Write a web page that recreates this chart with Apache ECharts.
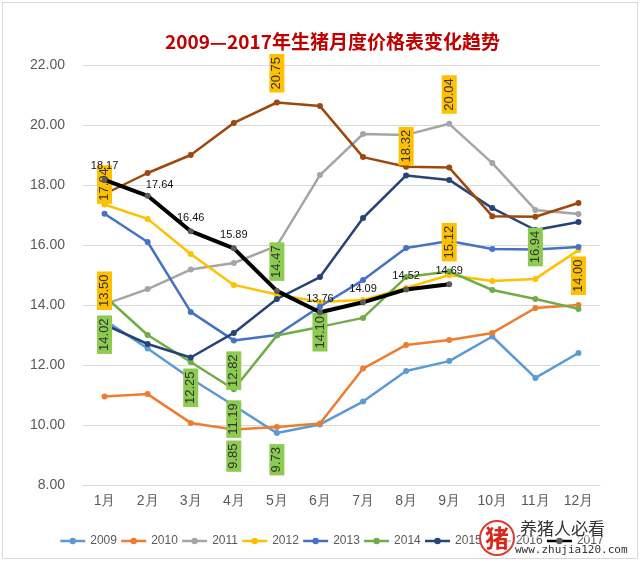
<!DOCTYPE html>
<html><head><meta charset="utf-8">
<script src="https://cdn.jsdelivr.net/npm/echarts@6/dist/echarts.min.js"></script>
<style>html,body{margin:0;padding:0;background:#fff}#c{width:640px;height:561px}</style>
</head><body><div id="c"></div>
<script>
const months = ['1月','2月','3月','4月','5月','6月','7月','8月','9月','10月','11月','12月'];
const years = ['2009','2010','2011','2012','2013','2014','2015','2016','2017'];
const yTicks = [8, 10, 12, 14, 16, 18, 20, 22];

const s2009 = [13.50, 12.55, 11.55, 10.65, 9.73, 10.02, 10.78, 11.80, 12.13, 12.95, 11.57, 12.40];
const s2010 = [10.95, 11.03, 10.07, 9.85, 9.93, 10.05, 11.88, 12.67, 12.83, 13.07, 13.90, 14.00];
const s2011 = [14.02, 14.53, 15.18, 15.40, 15.97, 18.33, 19.70, 19.67, 20.04, 18.73, 17.17, 17.03];
const s2012 = [17.35, 16.87, 15.70, 14.67, 14.35, 14.10, 14.17, 14.57, 15.00, 14.80, 14.87, 15.83];
const s2013 = [17.04, 16.10, 13.77, 12.82, 13.00, 13.95, 14.83, 15.90, 16.13, 15.87, 15.85, 15.93];
const s2014 = [14.30, 13.00, 12.10, 11.19, 12.98, 13.27, 13.57, 14.93, 15.12, 14.50, 14.20, 13.87];
const s2015 = [13.35, 12.70, 12.25, 13.07, 14.20, 14.93, 16.90, 18.32, 18.17, 17.23, 16.50, 16.77];
const s2016 = [17.70, 18.40, 19.00, 20.07, 20.75, 20.63, 18.93, 18.61, 18.58, 16.96, 16.94, 17.40];
const s2017 = [18.17, 17.64, 16.46, 15.89, 14.47, 13.76, 14.09, 14.52, 14.69];

const values = [s2009, s2010, s2011, s2012, s2013, s2014, s2015, s2016, s2017];
// month index of highlighted annual maximum / minimum
const maxIdx = {'2009':0, '2010':11, '2011':8, '2013':0, '2014':8, '2015':7, '2016':4};
const minIdx = {'2009':4, '2010':3, '2011':0, '2012':5, '2013':3, '2014':3, '2015':2, '2016':10};
const greenTopIdx = {'2017':4};

const colors = ['#5B9BD5','#ED7D31','#A5A5A5','#FFC000','#4472C4','#70AD47','#264478','#9E480E','#000000'];
const YELLOW = '#FFC000', GREEN = '#8CCB50';
const fmt = p => Number(p.value).toFixed(2);

function boxLabel(top, bg) {
  return {
    show: true, position: top ? 'top' : 'bottom', distance: top ? 7 : 8,
    rotate: 90, align: top ? 'left' : 'right', verticalAlign: 'middle',
    backgroundColor: bg, padding: [1, 3], color: '#333',
    fontSize: 13, fontFamily: 'Liberation Sans', formatter: fmt
  };
}

const series = years.map((y, si) => {
  const isLast = y === '2017';
  const data = values[si].map((v, i) => {
    const item = {value: v};
    if (maxIdx[y] === i) item.label = boxLabel(true, YELLOW);
    else if (minIdx[y] === i) item.label = boxLabel(false, GREEN);
    else if (greenTopIdx[y] === i) item.label = boxLabel(true, GREEN);
    else if (isLast && i === 1) item.label = {offset: [12, 3]};
    return item;
  });
  return {
    name: y, type: 'line', data: data,
    symbol: 'circle', symbolSize: 6, z: isLast ? 5 : 2,
    lineStyle: {width: isLast ? 4 : 2.5, color: colors[si]},
    itemStyle: {color: isLast ? '#5a5a5a' : colors[si]},
    label: isLast ? {show: true, position: 'top', distance: 5, fontSize: 11, color: '#111',
                     fontFamily: 'Liberation Sans', formatter: fmt}
                  : {show: false},
    emphasis: {disabled: true}
  };
});

const chart = echarts.init(document.getElementById('c'));
chart.setOption({
  animation: false,
  backgroundColor: '#fff',
  color: colors,
  title: {
    text: '2009—2017年生猪月度价格表变化趋势', left: 160, top: 27,
    textStyle: {color: '#C00000', fontSize: 19, fontWeight: 'bold', fontFamily: 'Noto Sans CJK SC'}
  },
  grid: {left: 83, right: 40, top: 65, bottom: 76, containLabel: false},
  xAxis: {
    type: 'category', data: months, boundaryGap: true,
    axisLine: {lineStyle: {color: '#d9d9d9'}}, axisTick: {show: false},
    axisLabel: {color: '#595959', fontSize: 14, margin: 9, fontFamily: 'Liberation Sans'}
  },
  yAxis: {
    type: 'value', min: yTicks[0], max: yTicks[yTicks.length - 1], interval: 2,
    axisLine: {show: false}, axisTick: {show: false},
    splitLine: {lineStyle: {color: '#d9d9d9'}},
    axisLabel: {color: '#595959', fontSize: 14, margin: 18, fontFamily: 'Liberation Sans',
                formatter: v => v.toFixed(2)}
  },
  legend: {
    data: years, left: 54, top: 530, itemWidth: 25, itemHeight: 8, itemGap: 3,
    itemStyle: {borderWidth: 0},
    lineStyle: {width: 2.5},
    textStyle: {color: '#595959', fontSize: 12, fontFamily: 'Liberation Sans'}
  },
  series: series,
  graphic: [
    {type: 'rect', z: 0, silent: true, shape: {x: 2.5, y: 2.5, width: 635, height: 556},
     style: {fill: 'none', stroke: '#d9d9d9', lineWidth: 1}},
    {type: 'circle', z: 100, shape: {cx: 497, cy: 538, r: 17},
     style: {fill: 'rgba(255,255,255,0.7)', stroke: '#e23a2e', lineWidth: 2}},
    {type: 'text', z: 101, x: 497, y: 538,
     style: {text: '猪', fill: '#d8261c', fontSize: 24, fontWeight: 'bold', align: 'center', verticalAlign: 'middle',
             fontFamily: 'Noto Sans CJK SC'}},
    {type: 'text', z: 101, x: 520, y: 529,
     style: {text: '养猪人必看', fill: '#333', fontSize: 17, align: 'left', verticalAlign: 'middle',
             fontFamily: 'Noto Sans CJK SC', backgroundColor: 'rgba(255,255,255,0.6)'}},
    {type: 'text', z: 101, x: 515, y: 550,
     style: {text: 'www.zhujia120.com', fill: '#333', fontSize: 11, align: 'left', verticalAlign: 'middle',
             fontFamily: 'DejaVu Sans Mono'}}
  ]
});
</script></body></html>
